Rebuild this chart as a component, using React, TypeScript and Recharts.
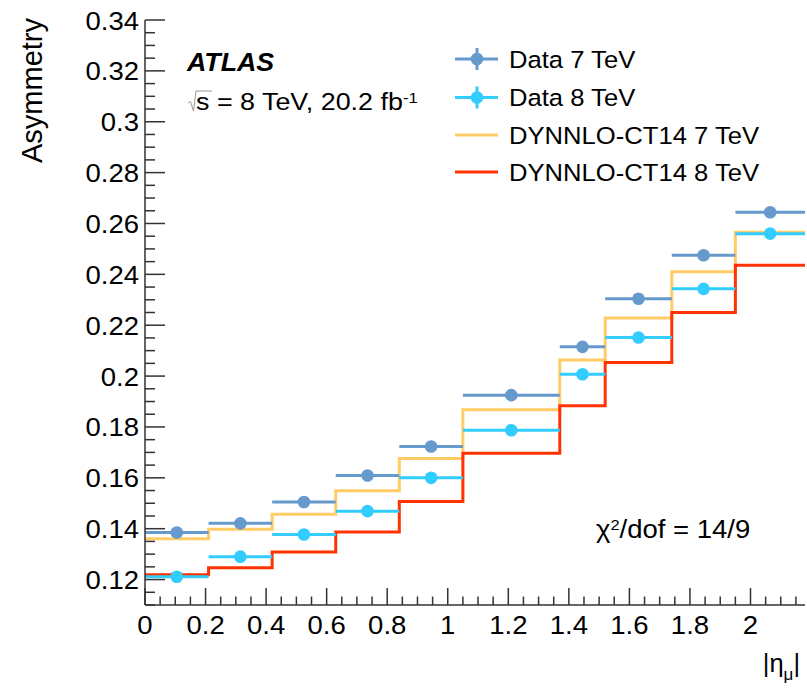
import React from 'react';
import { ComposedChart, Line, Scatter, ErrorBar, XAxis, YAxis } from 'recharts';

// bin edges in |eta_mu| and measured / predicted asymmetry per bin
const BIN_EDGES = [0, 0.21, 0.42, 0.63, 0.84, 1.05, 1.37, 1.52, 1.74, 1.95, 2.18];
const DATA_7TEV = [0.1385, 0.1421, 0.1505, 0.1609, 0.1723, 0.1925, 0.2115, 0.2304, 0.2475, 0.2644];
const DATA_8TEV = [0.1211, 0.129, 0.1377, 0.1469, 0.16, 0.1787, 0.2007, 0.2152, 0.2343, 0.256];
const CT14_7TEV = [0.136, 0.1398, 0.1457, 0.1549, 0.1676, 0.1868, 0.2063, 0.2228, 0.241, 0.2566];
const CT14_8TEV = [0.1219, 0.1246, 0.1308, 0.1387, 0.1507, 0.1697, 0.1883, 0.2053, 0.225, 0.2436];

const X_MAJOR = [0, 0.2, 0.4, 0.6, 0.8, 1, 1.2, 1.4, 1.6, 1.8, 2];
const Y_MAJOR = [0.12, 0.14, 0.16, 0.18, 0.2, 0.22, 0.24, 0.26, 0.28, 0.3, 0.32, 0.34];

const LEGEND_LABELS = ['Data 7 TeV', 'Data 8 TeV', 'DYNNLO-CT14 7 TeV', 'DYNNLO-CT14 8 TeV'];

const C_DATA7 = '#6699cc';
const C_DATA8 = '#33ccff';
const C_CT7 = '#ffcc66';
const C_CT8 = '#ff3300';
const FRAME = '#333';
const FONT = '"Liberation Sans", Arial, Helvetica, sans-serif';
const SX = 1.1; // the plot's text runs a bit wider than Arial

const W = 807;
const H = 694;

const toPoints = (vals: number[]) =>
  vals.map((v, i) => ({
    x: (BIN_EDGES[i] + BIN_EDGES[i + 1]) / 2,
    y: v,
    xerr: (BIN_EDGES[i + 1] - BIN_EDGES[i]) / 2,
  }));

const toSteps = (vals: number[]) =>
  BIN_EDGES.map((e, i) => ({ x: e, y: vals[Math.min(i, vals.length - 1)] }));

// major ticks plus n-1 minor ticks between each pair
const withMinor = (major: number[], n: number, max: number) => {
  const step = (major[1] - major[0]) / n;
  const out: number[] = [];
  for (let v = major[0] - step * (n - 1); v <= max + 1e-9; v += step) {
    if (v >= -1e-9) out.push(Number(v.toFixed(4)));
  }
  return out;
};

const X_TICKS = withMinor(X_MAJOR, 4, 2.18);
const Y_TICKS = withMinor(Y_MAJOR, 4, 0.34).filter((v) => v >= 0.11);

const isMajor = (v: number, list: number[]) => list.some((m) => Math.abs(m - v) < 1e-6);
const fmt = (v: number) => String(Number(v.toFixed(3)));

// horizontally stretched text, scaled about its anchor point
const SText = ({ x, y, sx = SX, anchor = 'start', size, children, ...rest }: any) => (
  <text
    transform={`translate(${x} ${y}) scale(${sx} 1)`}
    textAnchor={anchor}
    fontSize={size}
    fontFamily={FONT}
    fill="#000"
    {...rest}
  >
    {children}
  </text>
);

const BottomTick = (p: any) => {
  const major = isMajor(p.payload.value, X_MAJOR);
  return (
    <g>
      <line x1={p.x} x2={p.x} y1={p.y} y2={p.y - (major ? 17 : 8.5)} stroke={FRAME} strokeWidth={1.5} />
      {major && (
        <SText x={p.x} y={p.y + 29} anchor="middle" size={25}>
          {fmt(p.payload.value)}
        </SText>
      )}
    </g>
  );
};

const TopTick = (p: any) => {
  const major = isMajor(p.payload.value, X_MAJOR);
  return <line x1={p.x} x2={p.x} y1={p.y} y2={p.y + (major ? 17 : 8.5)} stroke={FRAME} strokeWidth={1.5} />;
};

const LeftTick = (p: any) => {
  const major = isMajor(p.payload.value, Y_MAJOR);
  return (
    <g>
      <line x1={p.x} x2={p.x + (major ? 20 : 10)} y1={p.y} y2={p.y} stroke={FRAME} strokeWidth={1.5} />
      {major && (
        <SText x={p.x - 6} y={p.y + 9.5} anchor="end" size={25}>
          {fmt(p.payload.value)}
        </SText>
      )}
    </g>
  );
};

const RightTick = (p: any) => {
  const major = isMajor(p.payload.value, Y_MAJOR);
  return <line x1={p.x} x2={p.x - (major ? 20 : 10)} y1={p.y} y2={p.y} stroke={FRAME} strokeWidth={1.5} />;
};

const dot = (color: string) => (p: any) => <circle cx={p.cx} cy={p.cy} r={6.3} fill={color} />;

const LEGEND_ROWS = [59, 97.5, 135, 172];
const LEGEND_COLORS = [C_DATA7, C_DATA8, C_CT7, C_CT8];

export default function App() {
  return (
    <div style={{ position: 'absolute', left: 0, top: 0, width: W, height: H, background: '#fff', fontFamily: FONT }}>
      <ComposedChart width={W} height={H} margin={{ top: 20, right: 2, bottom: 0, left: 0 }}>
        <XAxis
          dataKey="x"
          type="number"
          domain={[0, 2.18]}
          allowDataOverflow
          ticks={X_TICKS}
          interval={0}
          height={89}
          tickSize={0}
          tickMargin={0}
          tick={<BottomTick />}
          axisLine={{ stroke: FRAME, strokeWidth: 1.5 }}
        />
        <XAxis
          xAxisId="top"
          orientation="top"
          dataKey="x"
          type="number"
          domain={[0, 2.18]}
          allowDataOverflow
          ticks={X_TICKS}
          interval={0}
          height={0}
          tickSize={0}
          tickMargin={0}
          tick={<TopTick />}
          axisLine={{ stroke: FRAME, strokeWidth: 1.5 }}
        />
        <YAxis
          dataKey="y"
          type="number"
          domain={[0.11, 0.34]}
          allowDataOverflow
          ticks={Y_TICKS}
          interval={0}
          width={145}
          tickSize={0}
          tickMargin={0}
          tick={<LeftTick />}
          axisLine={{ stroke: FRAME, strokeWidth: 1.5 }}
        />
        <YAxis
          yAxisId="right"
          orientation="right"
          dataKey="y"
          type="number"
          domain={[0.11, 0.34]}
          allowDataOverflow
          ticks={Y_TICKS}
          interval={0}
          width={0}
          tickSize={0}
          tickMargin={0}
          tick={<RightTick />}
          axisLine={{ stroke: FRAME, strokeWidth: 1.5 }}
        />
        <Line
          data={toSteps(CT14_7TEV)}
          dataKey="y"
          type="stepAfter"
          stroke={C_CT7}
          strokeWidth={3}
          dot={false}
          activeDot={false}
          isAnimationActive={false}
        />
        <Line
          data={toSteps(CT14_8TEV)}
          dataKey="y"
          type="stepAfter"
          stroke={C_CT8}
          strokeWidth={3}
          dot={false}
          activeDot={false}
          isAnimationActive={false}
        />
        <Scatter data={toPoints(DATA_7TEV)} dataKey="y" shape={dot(C_DATA7)} isAnimationActive={false}>
          <ErrorBar dataKey="xerr" direction="x" width={0} stroke={C_DATA7} strokeWidth={3} isAnimationActive={false} />
        </Scatter>
        <Scatter data={toPoints(DATA_8TEV)} dataKey="y" shape={dot(C_DATA8)} isAnimationActive={false}>
          <ErrorBar dataKey="xerr" direction="x" width={0} stroke={C_DATA8} strokeWidth={3} isAnimationActive={false} />
        </Scatter>
      </ComposedChart>

      <svg width={W} height={H} style={{ position: 'absolute', left: 0, top: 0, pointerEvents: 'none' }} fontFamily={FONT}>
        {/* axis titles */}
        <text x={42} y={18} transform="rotate(-90 42 18)" textAnchor="end" fontSize={29} fill="#000">
          Asymmetry
        </text>
        <SText x={800} y={672} anchor="end" size={25.5} sx={1}>
          |η<tspan fontSize={17} dy={8}>μ</tspan>
          <tspan dy={-8}>|</tspan>
        </SText>

        {/* ATLAS label */}
        <SText x={187} y={71} size={25} sx={1.07} fontWeight="bold" fontStyle="italic">
          ATLAS
        </SText>
        <path d="M188 103 L190.5 101.5 L193.5 111 L196 91 L212 91" fill="none" stroke="#999" strokeWidth={1} />
        <SText x={196} y={110} size={24} sx={1.12}>
          s = 8 TeV, 20.2 fb<tspan fontSize={15} dy={-7}>-1</tspan>
        </SText>

        {/* chi2 */}
        <SText x={596} y={538} size={25}>
          χ<tspan fontSize={15} dy={-8}>2</tspan>
          <tspan dy={8}>/dof = 14/9</tspan>
        </SText>

        {/* legend */}
        {LEGEND_LABELS.map((label, i) => {
          const y = LEGEND_ROWS[i];
          const c = LEGEND_COLORS[i];
          return (
            <g key={label}>
              <line x1={455} x2={498} y1={y} y2={y} stroke={c} strokeWidth={3} />
              {i < 2 && <line x1={477} x2={477} y1={y - 11} y2={y + 11} stroke={c} strokeWidth={3} />}
              {i < 2 && <circle cx={477} cy={y} r={6.3} fill={c} />}
              <SText x={509} y={y + 8.5} size={23.5} sx={1.09}>
                {label}
              </SText>
            </g>
          );
        })}
      </svg>
    </div>
  );
}
